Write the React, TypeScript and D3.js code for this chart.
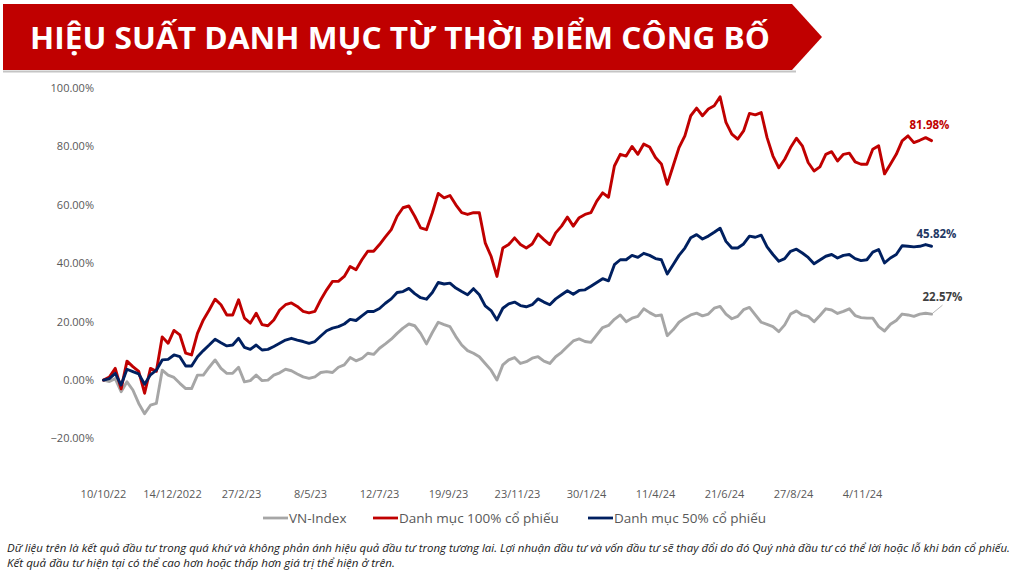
import React from 'react'
import * as d3 from 'd3'

// one sample every 4 trading days
const STEP = 4
const TICK_EVERY = 47

const tickLabels = ['10/10/22', '14/12/2022', '27/2/23', '8/5/23', '12/7/23', '19/9/23',
    '23/11/23', '30/1/24', '11/4/24', '21/6/24', '27/8/24', '4/11/24']

const yTicks = [-20, 0, 20, 40, 60, 80, 100]

const vnIndex = [
    0, -0.5, 0.5, -4, -0.6, -3.4, -8, -11.5, -8.6, -8,
    3.4, 1.7, 0.9, -1.1, -2.9, -2.9, 1.7, 1.7, 4.4, 6.9,
    4, 2.3, 2.3, 4.4, -0.6, -0.2, 1.7, -0.2, 0, 1.7,
    2.5, 3.7, 3.2, 2.1, 1.1, 0.6, 1.1, 2.6, 2.9, 2.6,
    4.4, 5.2, 7.7, 6.6, 7.4, 9.2, 8.8, 10.9, 12.4, 14,
    16, 17.8, 19.2, 18.6, 16, 12.4, 16.3, 19.8, 19, 18.3,
    14.9, 12, 10.1, 9.2, 8, 5.7, 3.4, 0, 5.2, 6.9,
    7.7, 5.7, 6.3, 7.5, 8, 6.5, 5.7, 8, 9.5, 11.5,
    13.4, 14.1, 13.2, 12.9, 15.5, 18, 18.7, 20.8, 22.3, 20,
    21.2, 21.8, 24.4, 23.1, 22, 22.3, 15.2, 17.2, 19.8, 21.2,
    22.3, 22.9, 22, 22.6, 24.6, 25.2, 22.6, 21, 21.8, 24.1,
    24.9, 22.3, 19.8, 19.1, 18.3, 16.6, 18.9, 22.6, 23.7, 22.3,
    21.8, 20, 22.1, 24.4, 24, 22.8, 23.5, 24.4, 22.1, 21.4,
    21.2, 21.2, 18.3, 16.8, 19.1, 20.4, 22.6, 22.3, 21.8, 22.6,
    22.9, 22.57,
]

const danhMuc100 = [
    0, 1, 4, -3, 6.5, 4.6, 3, -4.5, 4, 3,
    14.8, 12.6, 17, 15.5, 9.2, 8.6, 16, 20.6, 24, 27.7,
    25.8, 22.3, 22.3, 27.5, 21.2, 19.5, 22.9, 19, 18.6, 20.6,
    24, 25.8, 26.4, 25.2, 23.5, 23, 23.5, 27.5, 30.9, 33.8,
    33.8, 35.5, 38.9, 37.8, 41.2, 44.1, 44.1, 46.4, 49, 51.5,
    56.1, 59, 59.6, 56.1, 52.1, 51.5, 57.3, 63.9, 62.4, 63.2,
    60, 57.3, 56.7, 57.3, 57.3, 47, 42.4, 35.5, 45.2, 46.4,
    48.7, 46.4, 45.2, 46.6, 50, 48.1, 46.4, 50.4, 52.7, 55.8,
    52.7, 55.6, 56.7, 57.3, 61.3, 64.1, 62.6, 73.3, 77.3, 76.7,
    80, 77.3, 80.8, 79.8, 76.2, 74, 67, 73.3, 79.6, 83.6,
    90.5, 93.1, 90.5, 92.8, 93.9, 97, 88.2, 84.2, 82.5, 85.3,
    91.3, 90.8, 91.6, 83, 76.7, 72.7, 75.6, 79.6, 82.8, 80.2,
    74.5, 71.6, 73, 77.3, 78.2, 75, 77.3, 77.7, 74.7, 73.9,
    73.9, 79, 80.2, 70.6, 73.9, 77.3, 81.9, 83.6, 81.3, 82.1,
    83, 81.98,
]

const danhMuc50 = [
    0, 0.5, 2.3, -1.7, 3.7, 2.9, 2.1, -1.4, 1.8, 3.4,
    6.9, 7.1, 8.6, 8, 4.8, 4.8, 8, 10.1, 12, 14,
    12.8, 11.7, 12, 14.3, 11.2, 10.5, 12, 10.3, 10.5, 11.5,
    12.6, 13.7, 14.3, 13.7, 13.2, 12.6, 13.2, 15.1, 16.9, 17.8,
    18.3, 19.2, 20.8, 20.4, 22, 23.5, 23.5, 24.5, 26.3, 27.8,
    30, 30.3, 31.4, 29.6, 28.2, 27.7, 30, 33.4, 32.9, 33.2,
    31.5, 30.3, 29.2, 31.3, 29.2, 25.4, 23.8, 20.6, 24.6, 26.1,
    26.7, 25.5, 25.1, 25.8, 27.8, 26.7, 25.8, 27.8, 29.2, 30.6,
    29.4, 30.7, 30.9, 32.1, 33.4, 34.7, 34, 39.5, 41.2, 41.2,
    42.7, 42, 43.4, 42.7, 41.6, 41.2, 36.3, 39.5, 42.7, 45.2,
    48.7, 49.8, 48.3, 49.3, 50.6, 52, 47.5, 45.2, 45.2, 46.6,
    49.3, 48.9, 49.6, 45.6, 43, 40.7, 41.6, 44.1, 44.8, 43.5,
    42, 39.8, 41.1, 42.4, 43, 41.8, 42.7, 43, 41.6, 40.9,
    41.2, 43.8, 44.7, 40.1, 41.8, 43, 46, 45.8, 45.6, 45.8,
    46.4, 45.82,
]

const series = [
    { name: 'VN-Index', values: vnIndex, color: '#A6A6A6', labelColor: '#404040', legendX: 263 },
    { name: 'Danh mục 100% cổ phiếu', values: danhMuc100, color: '#C00000', labelColor: '#C00000', legendX: 373 },
    { name: 'Danh mục 50% cổ phiếu', values: danhMuc50, color: '#002060', labelColor: '#1F3864', legendX: 588 },
]

const footnote = [
    'Dữ liệu trên là kết quả đầu tư trong quá khứ và không phản ánh hiệu quả đầu tư trong tương lai. Lợi nhuận đầu tư và vốn đầu tư sẽ thay đổi do đó Quý nhà đầu tư có thể lời hoặc lỗ khi bán cổ phiếu.',
    'Kết quả đầu tư hiện tại có thể cao hơn hoặc thấp hơn giá trị thể hiện ở trên.',
]

const FONT = '"Open Sans", "Noto Sans", sans-serif'

const App = () => {
    const n = danhMuc100.length
    const x = d3.scaleLinear().domain([0, (n - 1) * STEP]).range([103.5, 931.5])
    const y = d3.scaleLinear().domain([-20, 100]).range([438.5, 88])
    const line = d3.line<number>()
        .x((_, i) => x(i * STEP))
        .y(d => y(d))

    const lastX = x((n - 1) * STEP)
    // label offsets (x, y) from the last point, as in the reference
    const labelOffsets = [[-9, -13], [-22, -11.5], [-15, -8.5]]

    return (
        <svg width={1024} height={571} style={{ position: 'absolute', left: 0, top: 0, background: '#fff' }}>
            {/* title banner */}
            <line x1={3} x2={796} y1={71.5} y2={71.5} stroke="#c4c4c4" strokeWidth={2} />
            <polygon points="3,4 792,4 822,37 792,70 3,70" fill="#C00000" />
            <text x={30} y={49} fill="#fff" fontFamily={FONT} fontWeight={700} fontSize={31}
                textLength={740} lengthAdjust="spacingAndGlyphs">
                HIỆU SUẤT DANH MỤC TỪ THỜI ĐIỂM CÔNG BỐ
            </text>

            {/* y axis labels */}
            {yTicks.map(t => (
                <text key={t} x={94} y={y(t)} dy="0.35em" textAnchor="end"
                    fontFamily={FONT} fontSize={11} fill="#595959">
                    {d3.format('.2f')(t)}%
                </text>
            ))}

            {/* x axis labels */}
            {tickLabels.map((lbl, i) => (
                <text key={lbl} x={x(i * TICK_EVERY)} y={498} textAnchor="middle"
                    fontFamily={FONT} fontSize={11} fill="#595959">
                    {lbl}
                </text>
            ))}

            {/* lines */}
            {series.map(s => (
                <path key={s.name} d={line(s.values)!} fill="none" stroke={s.color}
                    strokeWidth={2.9} strokeLinejoin="round" strokeLinecap="round" />
            ))}

            {/* end labels */}
            {series.map((s, i) => {
                const last = s.values[s.values.length - 1]
                const [dx, dy] = labelOffsets[i]
                return (
                    <text key={s.name} x={lastX + dx} y={y(last) + dy} fontFamily={FONT}
                        fontWeight={700} fontSize={11.5} fill={s.labelColor}>
                        {d3.format('.2f')(last)}%
                    </text>
                )
            })}
            <line x1={lastX} y1={y(vnIndex[vnIndex.length - 1])} x2={lastX + 11}
                y2={y(vnIndex[vnIndex.length - 1]) - 9} stroke="#A6A6A6" strokeWidth={0.8} />

            {/* legend */}
            {series.map(s => (
                <g key={s.name} transform={`translate(${s.legendX}, 518)`}>
                    <line x1={0} x2={25} y1={0} y2={0} stroke={s.color} strokeWidth={2.8} />
                    <text x={26} y={0} dy="0.35em" fontFamily={FONT} fontSize={13.5} fill="#595959">
                        {s.name}
                    </text>
                </g>
            ))}

            {/* footnote */}
            <text x={7} y={552} fontFamily={FONT} fontStyle="italic" fontSize={10.5} fill="#1a1a1a"
                textLength={1003} lengthAdjust="spacingAndGlyphs">
                {footnote[0]}
            </text>
            <text x={7} y={566.5} fontFamily={FONT} fontStyle="italic" fontSize={10.5} fill="#1a1a1a"
                textLength={388} lengthAdjust="spacingAndGlyphs">
                {footnote[1]}
            </text>
        </svg>
    )
}

export default App
